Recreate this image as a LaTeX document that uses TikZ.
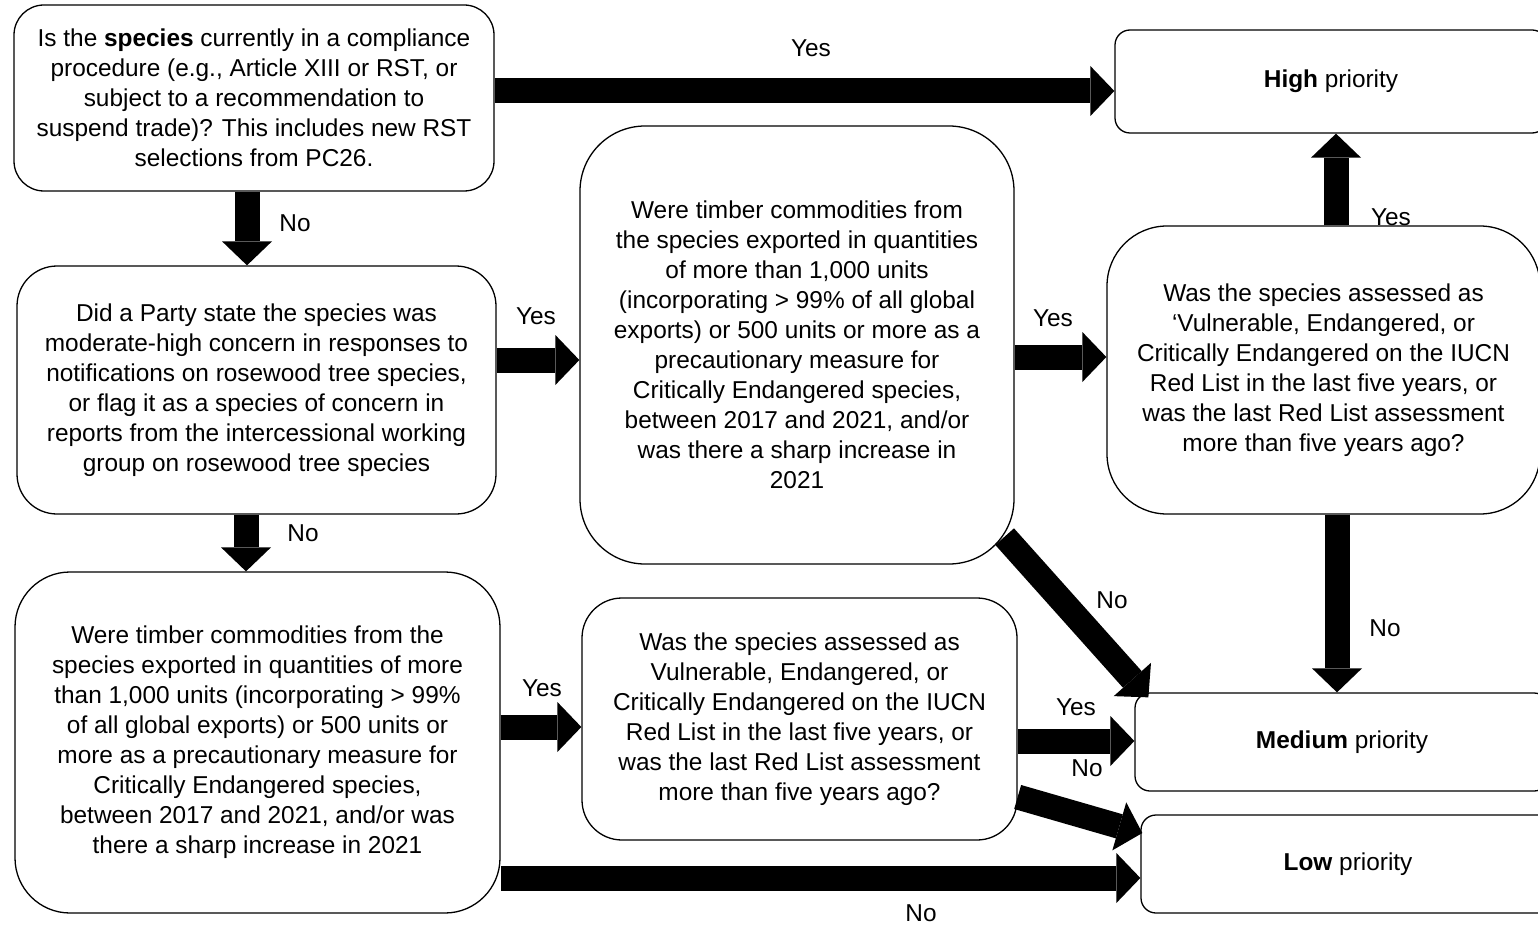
\documentclass[tikz,border=0pt]{standalone}
\usepackage{fontspec}
\setmainfont{Liberation Sans}
\usetikzlibrary{arrows.meta,calc}
\begin{document}
\begin{tikzpicture}[x=1pt,y=-1pt,
  txt/.style={font=\fontsize{24.4}{30}\selectfont},
  box/.style={txt, draw, line width=1.3pt, align=center, inner sep=0pt},
  lbl/.style={txt, inner sep=0pt},
  big/.style={line width=25pt, -{Triangle[width=50pt,length=24pt,line width=0pt]}},
]
\useasboundingbox (0,0) rectangle (1538,925);

\node[box, rounded corners=30pt, minimum width=480pt, minimum height=186pt] (q1) at (254,98)
  {Is the \textbf{species} currently in a compliance\\procedure (e.g., Article XIII or RST, or\\subject to a recommendation to\\suspend trade)? This includes new RST\\selections from PC26.};
\node[box, rounded corners=15pt, minimum width=432pt, minimum height=103pt] (high) at (1331,81.5)
  {\textbf{High} priority};
\node[box, rounded corners=40pt, minimum width=479pt, minimum height=248pt] (q2) at (256.5,390)
  {Did a Party state the species was\\moderate-high concern in responses to\\notifications on rosewood tree species,\\or flag it as a species of concern in\\reports from the intercessional working\\group on rosewood tree species};
\node[box, rounded corners=65pt, minimum width=434pt, minimum height=438pt] (q3) at (797,345)
  {Were timber commodities from\\the species exported in quantities\\of more than 1,000 units\\(incorporating > 99\% of all global\\exports) or 500 units or more as a\\precautionary measure for\\Critically Endangered species,\\between 2017 and 2021, and/or\\was there a sharp increase in\\2021};
\node[box, rounded corners=60pt, minimum width=433pt, minimum height=288pt] (q4) at (1323.5,370)
  {Was the species assessed as\\‘Vulnerable, Endangered, or\\Critically Endangered on the IUCN\\Red List in the last five years, or\\was the last Red List assessment\\more than five years ago?};
\node[box, rounded corners=55pt, minimum width=485pt, minimum height=341pt] (q5) at (257.5,742.5)
  {Were timber commodities from the\\species exported in quantities of more\\than 1,000 units (incorporating > 99\%\\of all global exports) or 500 units or\\more as a precautionary measure for\\Critically Endangered species,\\between 2017 and 2021, and/or was\\there a sharp increase in 2021};
\node[box, rounded corners=40pt, minimum width=435pt, minimum height=242pt] (q6) at (799.5,719)
  {Was the species assessed as\\Vulnerable, Endangered, or\\Critically Endangered on the IUCN\\Red List in the last five years, or\\was the last Red List assessment\\more than five years ago?};
\node[box, rounded corners=15pt, minimum width=414pt, minimum height=98pt] (medium) at (1342,742)
  {\textbf{Medium} priority};
\node[box, rounded corners=15pt, minimum width=414pt, minimum height=98pt] (low) at (1348,864)
  {\textbf{Low} priority};

% connectors
\draw[big] (q1.east |- 0,91) -- (high.west |- 0,91);
\draw[big] (q1.south -| 247,0) -- (q2.north -| 247,0);
\draw[big] (q2.east |- 0,360) -- (q3.west |- 0,360);
\draw[big] (q2.south -| 246,0) -- (q5.north -| 246,0);
\draw[big] (q3.east |- 0,357) -- (q4.west |- 0,357);
\draw[big] (q4.north -| 1336,0) -- (high.south -| 1336,0);
\draw[big] (q4.south -| 1337,0) -- (medium.north -| 1337,0);
\draw[big] ($(q3.south east)+(-10,-28)$) -- ($(medium.north west)+(14,5)$);
\draw[big] (q6.east |- 0,741) -- (medium.west |- 0,741);
\draw[big] (q6.east |- 0,797) -- ($(low.west |- 0,833)+(2,0)$);
\draw[big] (q5.east |- 0,878) -- (low.west |- 0,878);
\draw[big] (q5.east |- 0,727) -- (q6.west |- 0,727);

% labels
\node[lbl] (l1) at (811,48) {Yes};
\node[lbl] (l2) at (295,223) {No};
\node[lbl] (l3) at (536,316) {Yes};
\node[lbl] (l4) at (303,533) {No};
\node[lbl] (l5) at (1053,318) {Yes};
\node[lbl] (l6) at (1391,217) {Yes};
\node[lbl] (l7) at (1385,628) {No};
\node[lbl] (l8) at (1112,600) {No};
\node[lbl] (l9) at (1076,707) {Yes};
\node[lbl] (l10) at (1087,768) {No};
\node[lbl] (l11) at (921,913) {No};
\node[lbl] (l12) at (542,688) {Yes};
\end{tikzpicture}
\end{document}
